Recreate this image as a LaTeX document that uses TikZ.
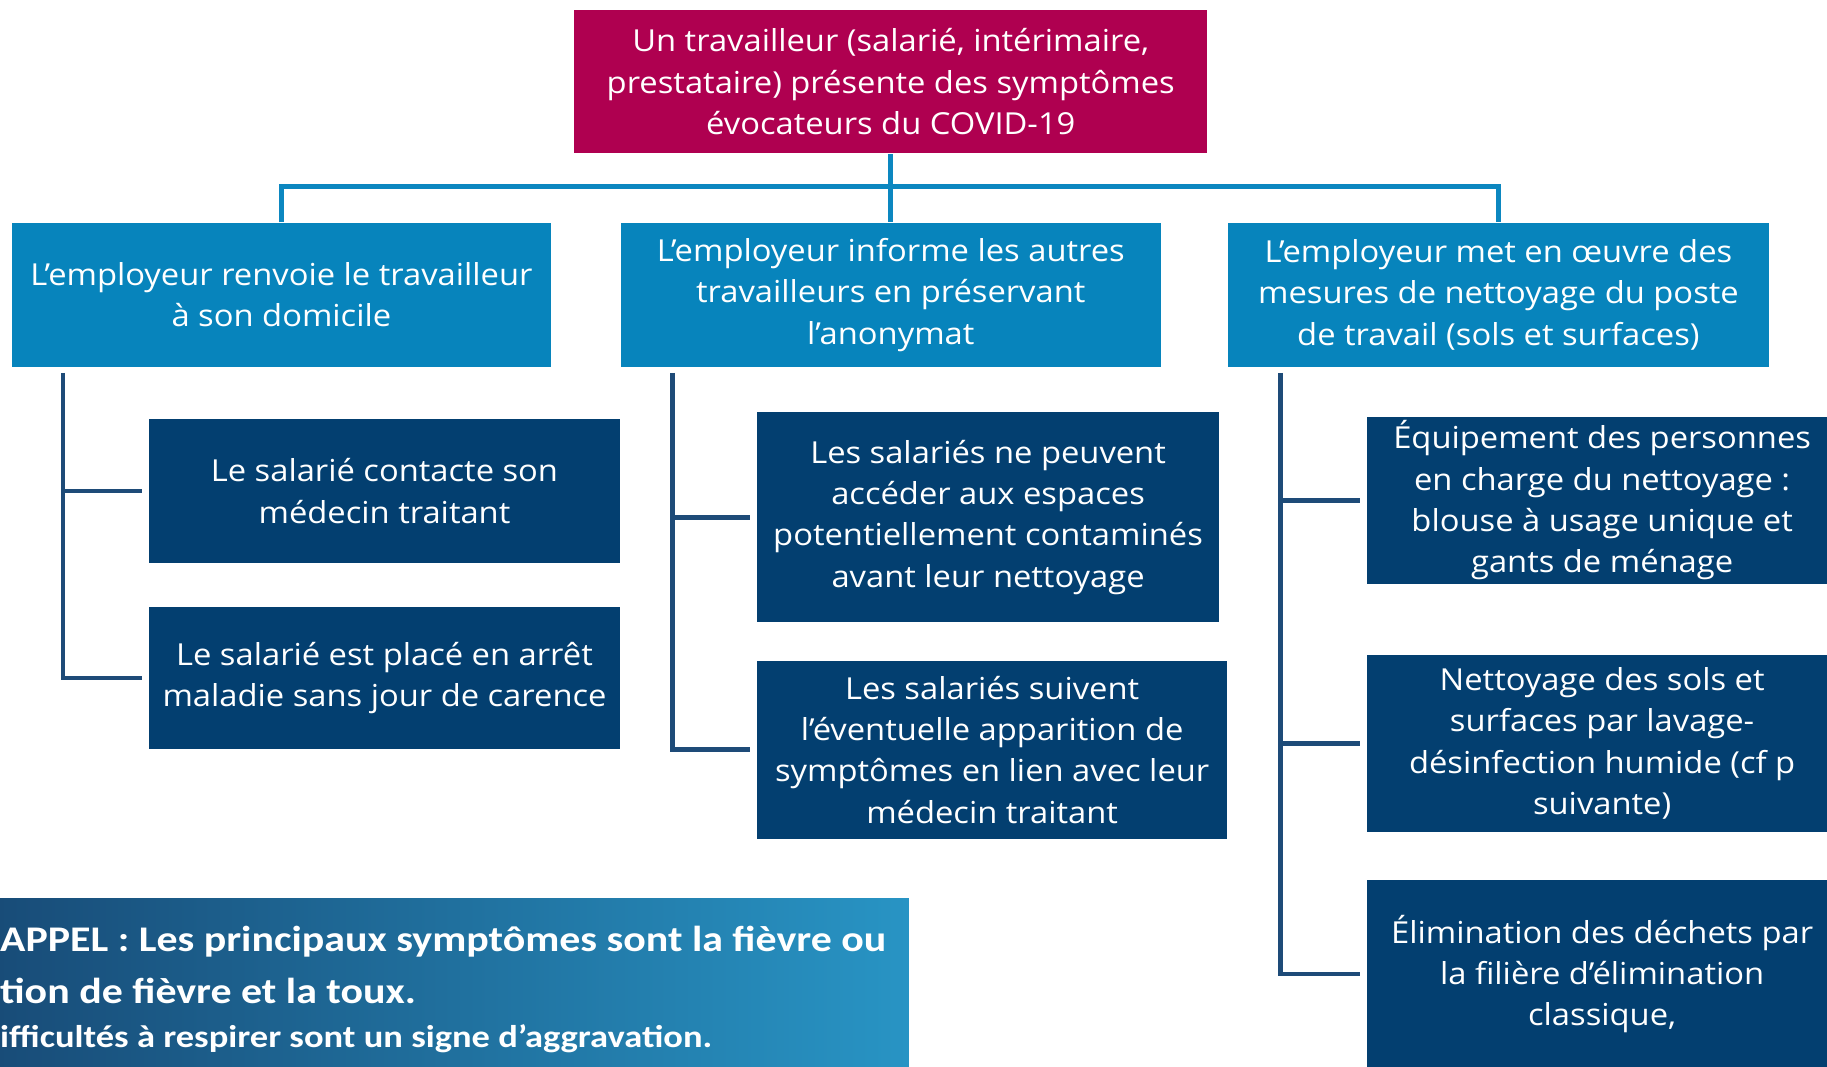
\documentclass[tikz,border=0pt]{standalone}
\usepackage{fontspec}
\setmainfont[FakeStretch=1.08]{Open Sans}
\newfontfamily\rappelfont[FakeStretch=1.16]{Carlito}
\definecolor{magentaC}{HTML}{AF0050}
\definecolor{midblue}{HTML}{0784BC}
\definecolor{navy}{HTML}{033F70}
\definecolor{busblue}{HTML}{0C87C0}
\definecolor{navyline}{HTML}{1E4B78}
\definecolor{gradL}{HTML}{184C78}
\definecolor{gradR}{HTML}{2894C4}
\tikzset{
  boxtxt/.style={text=white, align=center, inner sep=0pt, font=\fontsize{26}{35.5}\selectfont},
  topbox/.style={boxtxt, fill=magentaC},
  midbox/.style={boxtxt, fill=midblue},
  subbox/.style={boxtxt, fill=navy},
  conna/.style={draw=busblue, line width=4pt},
  connb/.style={draw=navyline, line width=4pt, shorten >=6pt},
  rappeltxt/.style={anchor=base west, inner sep=0pt, text=white},
}
\begin{document}
\begin{tikzpicture}[x=1pt,y=-1pt]
\useasboundingbox (0,0) rectangle (1568,915);
\clip (0,0) rectangle (1568,915);
\fill[white] (0,0) rectangle (1568,915);

% top
\node[topbox, minimum width=543pt, minimum height=122pt] (top) at (764.5,70)
  {Un travailleur (salarié, intérimaire,\\prestataire) présente des symptômes\\évocateurs du COVID-19};

% level 2
\node[midbox, minimum width=463pt, minimum height=124pt] (l2) at (241.5,253)
  {L’employeur renvoie le travailleur\\à son domicile};
\node[midbox, minimum width=463pt, minimum height=124pt] (m2) at (764.5,253)
  {L’employeur informe les autres\\travailleurs en préservant\\l’anonymat};
\node[midbox, minimum width=464pt, minimum height=124pt] (r2) at (1286,253)
  {L’employeur met en œuvre des\\mesures de nettoyage du poste\\de travail (sols et surfaces)};

% level 3 left
\node[subbox, minimum width=404pt, minimum height=123pt] (a1) at (330,421.5)
  {Le salarié contacte son\\médecin traitant};
\node[subbox, minimum width=404pt, minimum height=122pt] (a2) at (330,582)
  {Le salarié est placé en arrêt\\maladie sans jour de carence};

% level 3 middle
\node[subbox, minimum width=396pt, minimum height=180pt] (b1) at (848,444)
  {Les salariés ne peuvent\\accéder aux espaces\\potentiellement contaminés\\avant leur nettoyage};
\node[subbox, minimum width=403pt, minimum height=153pt] (b2) at (851.5,643.5)
  {Les salariés suivent\\l’éventuelle apparition de\\symptômes en lien avec leur\\médecin traitant};

% level 3 right
\node[subbox, minimum width=404pt, minimum height=143pt] (c1) at (1375,429.5)
  {Équipement des personnes\\en charge du nettoyage :\\blouse à usage unique et\\gants de ménage};
\node[subbox, minimum width=404pt, minimum height=152pt] (c2) at (1375,638)
  {Nettoyage des sols et\\surfaces par lavage-\\désinfection humide (cf p\\suivante)};
\node[subbox, minimum width=404pt, minimum height=162pt] (c3) at (1375,836)
  {Élimination des déchets par\\la filière d’élimination\\classique,};

% connectors level 1-2
\draw[conna, shorten <=1pt] (top.south) -- (m2.north);
\draw[conna] (l2.north) -- ++(0,-31) -| (r2.north);

% connectors level 2-3
\coordinate (la) at (54,320);
\coordinate (ma) at (577,320);
\coordinate (ra) at (1099,320);
\draw[connb] (la) |- (a2.west);
\draw[connb] (la |- a1.west) -- (a1.west);
\draw[connb] (ma) |- (b2.west);
\draw[connb] (ma |- b1.west) -- (b1.west);
\draw[connb] (ra) |- (c3.west);
\draw[connb] (ra |- c1.west) -- (c1.west);
\draw[connb] (ra |- c2.west) -- (c2.west);

% rappel
\shade[left color=gradL, right color=gradR] (-2,771) rectangle (780,920);
\node[rappeltxt, font=\rappelfont\bfseries\fontsize{31}{36}\selectfont] (r1) at (0,817)
  {APPEL : Les principaux symptômes sont la fièvre ou};
\node[rappeltxt, font=\rappelfont\bfseries\fontsize{31}{36}\selectfont] (r2t) at (0,861)
  {tion de fièvre et la toux.};
\node[rappeltxt, font=\rappelfont\bfseries\fontsize{27}{30}\selectfont] (r3) at (0,899)
  {ifficultés à respirer sont un signe d’aggravation.};
\end{tikzpicture}
\end{document}
